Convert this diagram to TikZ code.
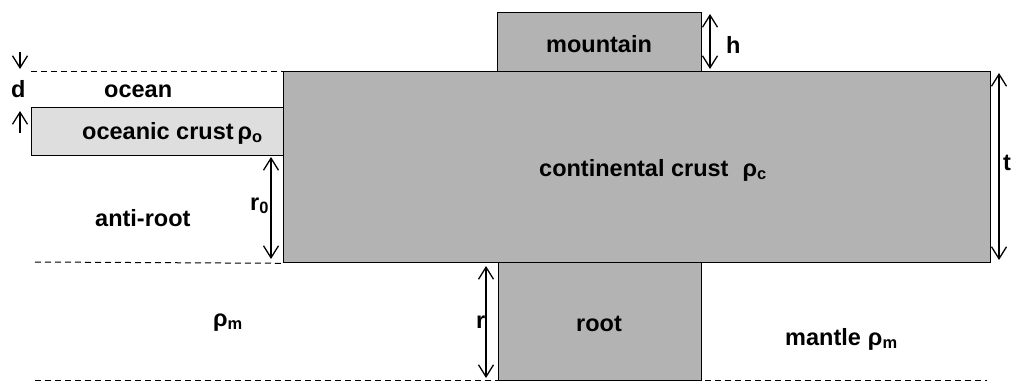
\documentclass[tikz,border=0pt]{standalone}
\usepackage{fontspec}
\setmainfont{Liberation Sans}
\usetikzlibrary{arrows.meta}
\definecolor{crust}{HTML}{B3B3B3}
\definecolor{ocrust}{HTML}{DEDEDE}
\begin{document}
\begin{tikzpicture}[x=1pt,y=-1pt,
  box/.style={draw=black, line width=1.3pt, fill=crust, inner sep=0pt, anchor=north west},
  lbl/.style={font=\fontsize{23.5}{26}\selectfont\bfseries, inner sep=0pt, anchor=base west},
  dashline/.style={line width=1pt, dash pattern=on 6pt off 4pt},
  dimarrow/.style={line width=1.3pt, {Straight Barb[length=12pt,width=15pt]}-{Straight Barb[length=12pt,width=15pt]}},
  onearrow/.style={line width=1.3pt, -{Straight Barb[length=12pt,width=15pt]}}]
\useasboundingbox (0,0) rectangle (1021,383);
% boxes
\node[box, minimum width=707pt, minimum height=191pt] (cc) at (283,71) {};
\node[box, minimum width=204pt, minimum height=59pt] (mt) at (497,12) {};
\node[box, minimum width=203pt, minimum height=118pt] (rt) at (498,262) {};
\node[box, fill=ocrust, minimum width=252pt, minimum height=48pt] (oc) at (31,107) {};
% dashed levels
\coordinate (dl1) at (31,71);
\coordinate (dl2) at (35,262);
\coordinate (dl3a) at (35,380);
\coordinate (dl3b) at (987,380);
\draw[dashline] (dl1) -- (cc.north west);
\draw[dashline] (dl2) -- (cc.south west);
\draw[dashline] (dl3a) -- (dl3b);
% dimension arrows
\coordinate (h1) at (710,14); \coordinate (h2) at (710,69);
\coordinate (t1) at (999,73); \coordinate (t2) at (999,260);
\coordinate (r01) at (271,157); \coordinate (r02) at (271,259);
\coordinate (r1) at (486,266); \coordinate (r2) at (486,378);
\coordinate (d1) at (20,52); \coordinate (d2) at (20,69);
\coordinate (d3) at (20,133); \coordinate (d4) at (20,111);
\draw[dimarrow] (h1) -- (h2);
\draw[dimarrow] (t1) -- (t2);
\draw[dimarrow] (r01) -- (r02);
\draw[dimarrow] (r1) -- (r2);
\draw[onearrow] (d1) -- (d2);
\draw[onearrow] (d3) -- (d4);
% labels
\node[lbl] (locean) at (104,97) {ocean};
\node[lbl] (loc) at (82,139) {oceanic crust\,ρ\textsubscript{o}};
\node[lbl] (ld) at (11,97) {d};
\node[lbl] (lmt) at (546,52) {mountain};
\node[lbl] (lh) at (726,53) {h};
\node[lbl] (lt) at (1003,170) {t};
\node[lbl] (lcc) at (539,176) {continental crust\hspace{0.6em}ρ\textsubscript{c}};
\node[lbl] (lar) at (95,226) {anti-root};
\node[lbl] (lr0) at (250,210) {r\textsubscript{0}};
\node[lbl] (lrm) at (213,326) {ρ\textsubscript{m}};
\node[lbl] (lroot) at (576,331) {root};
\node[lbl] (lr) at (476,328) {r};
\node[lbl] (lmant) at (785,345) {mantle\hspace{0.3em}ρ\textsubscript{m}};
\end{tikzpicture}
\end{document}
